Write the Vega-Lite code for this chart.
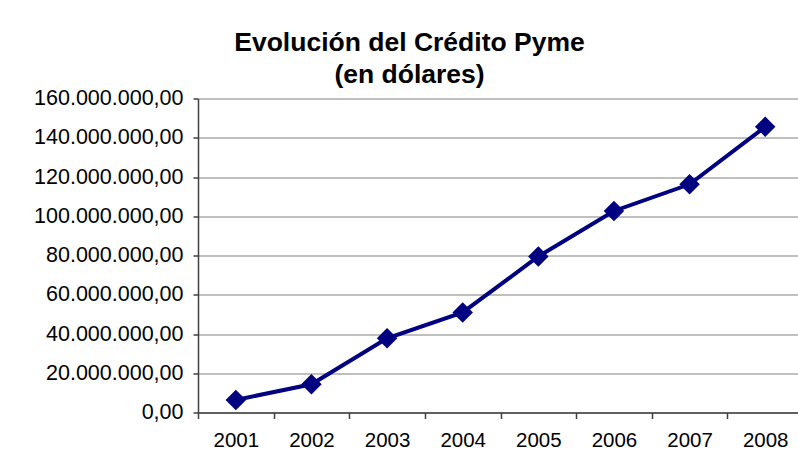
{
  "$schema": "https://vega.github.io/schema/vega-lite/v6.json",
  "width": 605,
  "height": 314,
  "autosize": {"type": "none"},
  "padding": {"left": 198, "top": 98.5, "right": 0, "bottom": 48},
  "background": "white",
  "title": {
    "text": ["Evolución del Crédito Pyme", "(en dólares)"],
    "font": "Liberation Sans",
    "fontSize": 26.5,
    "fontWeight": "bold",
    "lineHeight": 32,
    "anchor": "middle",
    "dx": -91,
    "offset": -1,
    "color": "black"
  },
  "data": {
    "values": [
      {"year": "2001", "credito": 6400000},
      {"year": "2002", "credito": 14400000},
      {"year": "2003", "credito": 37800000},
      {"year": "2004", "credito": 51000000},
      {"year": "2005", "credito": 79500000},
      {"year": "2006", "credito": 102700000},
      {"year": "2007", "credito": 116300000},
      {"year": "2008", "credito": 145600000}
    ]
  },
  "encoding": {
    "x": {
      "field": "year",
      "type": "ordinal",
      "bandPosition": 0.5,
      "scale": {"type": "band", "paddingInner": 0, "paddingOuter": 0},
      "axis": {
        "title": null,
        "labelAngle": 0,
        "tickBand": "extent",
        "tickSize": 6,
        "labelPadding": 12,
        "labelFontSize": 20.5,
        "grid": false,
        "domainColor": "#404040",
        "tickColor": "#404040"
      }
    },
    "y": {
      "field": "credito",
      "type": "quantitative",
      "scale": {"domain": [0, 160000000], "nice": false},
      "axis": {
        "title": null,
        "values": [0, 20000000, 40000000, 60000000, 80000000, 100000000, 120000000, 140000000, 160000000],
        "format": ",.2f",
        "tickSize": 5,
        "labelPadding": 10,
        "labelFontSize": 21.5,
        "grid": true,
        "gridColor": "#808080",
        "gridWidth": 1,
        "domainColor": "#404040",
        "tickColor": "#404040"
      }
    }
  },
  "layer": [
    {"mark": {"type": "line", "color": "#000080", "strokeWidth": 4}},
    {"mark": {"type": "point", "shape": "diamond", "size": 420, "filled": true, "opacity": 1, "color": "#000080"}}
  ],
  "config": {
    "locale": {"number": {"decimal": ",", "thousands": ".", "grouping": [3], "currency": ["$", ""]}},
    "view": {"stroke": null},
    "axis": {
      "labelFont": "Liberation Sans",
      "labelFontSize": 20,
      "labelColor": "black",
      "domainWidth": 1.5,
      "tickWidth": 1.5
    }
  }
}
